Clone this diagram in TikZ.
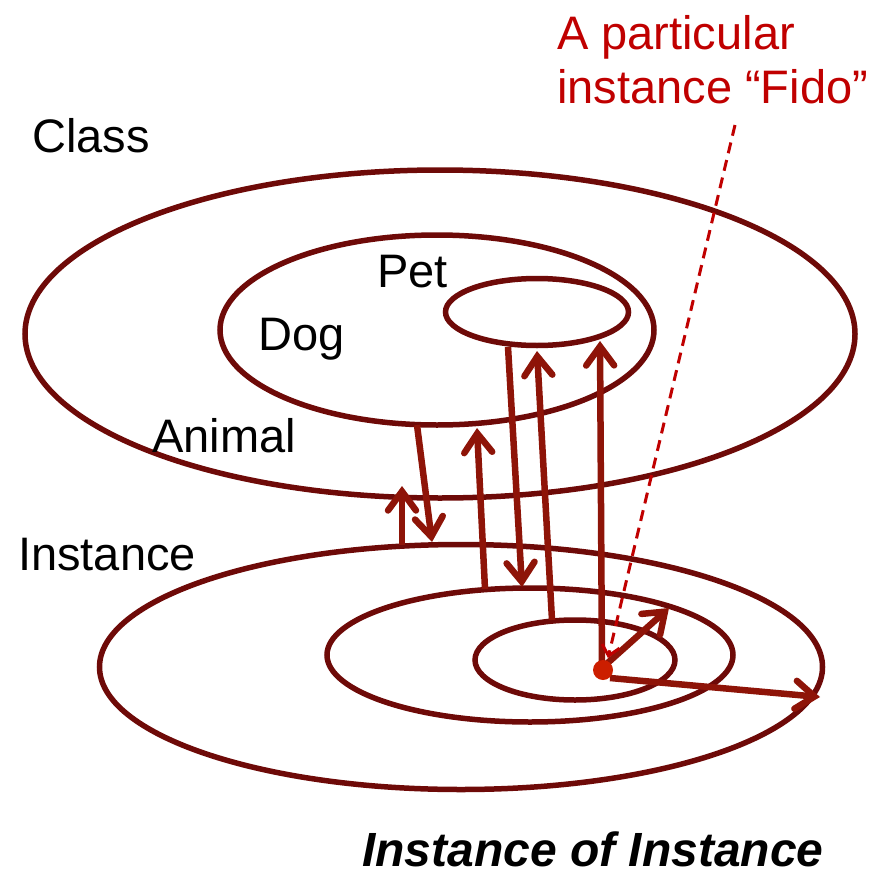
\documentclass[tikz,border=0pt]{standalone}
\usepackage{fontspec}
\setmainfont{Liberation Sans}
\usetikzlibrary{shapes.geometric,arrows.meta}
\definecolor{ellcol}{HTML}{6E0A08}
\definecolor{arrcol}{HTML}{8E1408}
\definecolor{redtxt}{HTML}{C00000}
\definecolor{dotcol}{HTML}{CC1E00}
\begin{document}
\begin{tikzpicture}[x=1pt,y=-1pt,
  ell/.style={draw=ellcol,line width=5.5pt,ellipse,inner sep=0pt,outer sep=0pt},
  arr/.style={draw=arrcol,line width=6.5pt,-{Straight Barb[length=19pt,width=28pt,line width=6.5pt,line cap=round]}},
  lbl/.style={anchor=base west,inner sep=0pt,font=\fontsize{47}{52}\selectfont}]
\useasboundingbox (0,0) rectangle (886,875);
% class ellipses
\node[ell,minimum width=830pt,minimum height=328pt] (class) at (440,334) {};
\node[ell,minimum width=434pt,minimum height=190pt] (dog) at (437,330) {};
\node[ell,minimum width=183pt,minimum height=67pt] (pet) at (537,312) {};
% instance ellipses
\node[ell,minimum width=723pt,minimum height=245pt] (inst) at (461,667) {};
\node[ell,minimum width=406pt,minimum height=134pt] (instmid) at (530,655) {};
\node[ell,minimum width=200pt,minimum height=80pt] (instin) at (575,660) {};
% labels
\node[lbl] (lclass) at (32,152) {Class};
\node[lbl] (lpet) at (377,287) {Pet};
\node[lbl] (ldog) at (258,350) {Dog};
\node[lbl] (lanimal) at (152,452) {Animal};
\node[lbl] (linst) at (18,570) {Instance};
\node[lbl,text=redtxt] (lfido1) at (557,50) {A particular};
\node[lbl,text=redtxt] (lfido2) at (557,103) {instance “Fido”};
\node[lbl,font=\fontsize{48}{52}\selectfont\bfseries\itshape] (lioi) at (362,866) {Instance of Instance};
% arrow endpoints
\coordinate (a1s) at (402,545); \coordinate (a1e) at (402,486);
\coordinate (a2s) at (417,425); \coordinate (a2e) at (432,542);
\coordinate (a3s) at (485,589); \coordinate (a3e) at (477,428);
\coordinate (a4s) at (508,347); \coordinate (a4e) at (522,587);
\coordinate (a5s) at (552,620); \coordinate (a5e) at (537,351);
\coordinate (a6s) at (602,668); \coordinate (a6e) at (600,341);
\coordinate (a7e) at (669,608);
\coordinate (a8s) at (610,678); \coordinate (a8e) at (820,697);
\coordinate (dtop) at (735,125); \coordinate (dend) at (608,658);
% arrows
\draw[arr] (a1s) -- (a1e);
\draw[arr] (a2s) -- (a2e);
\draw[arr] (a3s) -- (a3e);
\draw[arr] (a4s) -- (a4e);
\draw[arr] (a5s) -- (a5e);
\draw[arr] (a6s) -- (a6e);
\draw[arr] (a6s) -- (a7e);
\draw[arr] (a8s) -- (a8e);
% dashed pointer
\draw[draw=redtxt,line width=3pt,dash pattern=on 11pt off 7pt,-{Straight Barb[length=10pt,width=18pt,line width=3pt]}] (dtop) -- (dend);
% Fido dot
\node[circle,fill=dotcol,minimum size=20pt,inner sep=0pt] (fido) at (603,670) {};
\end{tikzpicture}
\end{document}
